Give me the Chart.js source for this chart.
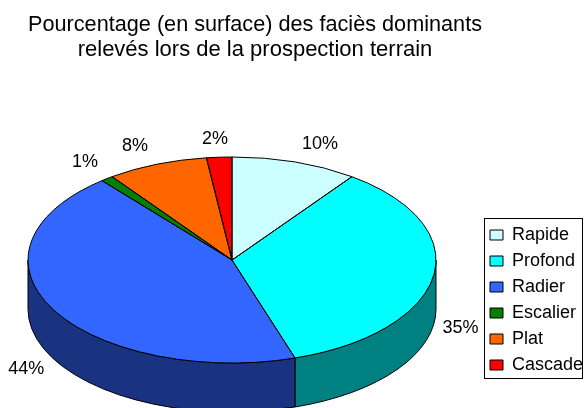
<!DOCTYPE html>
<html>
<head>
<meta charset="utf-8">
<script src="https://cdn.jsdelivr.net/npm/chart.js@4/dist/chart.umd.min.js"></script>
<style>
  html, body { margin: 0; padding: 0; background: #fff; }
</style>
</head>
<body>
<canvas id="pie" width="584" height="408"></canvas>
<script>
'use strict';

// données du graphique
const labels = ['Rapide', 'Profond', 'Radier', 'Escalier', 'Plat', 'Cascade'];
const values = [10, 35, 44, 1, 8, 2];
const colors = ['#ccffff', '#00ffff', '#3366ff', '#008000', '#ff6600', '#ff0000'];
const titleLines = ['Pourcentage (en surface) des faciès dominants', 'relevés lors de la prospection terrain'];

// look 3D (ellipse + épaisseur)
const PIE_RX = 204;
const TILT = 0.505;
const DEPTH = 49;
const FONT = '"Liberation Sans", Arial, sans-serif';

function darker(hex) {
    const n = parseInt(hex.slice(1), 16);
    const r = (n >> 16) & 255, g = (n >> 8) & 255, b = n & 255;
    return 'rgb(' + Math.round(r / 2) + ',' + Math.round(g / 2) + ',' + Math.round(b / 2) + ')';
}

function clamp(v) {
    return Math.max(-1, Math.min(1, v));
}

// ellipse du dessus, calée sur la zone du graphique
function ellipseOf(chart) {
    const a = chart.chartArea;
    const rx = PIE_RX, ry = PIE_RX * TILT;
    return { x: a.left + rx, y: a.top + ry, rx: rx, ry: ry };
}

const pie3d = {
    id: 'pie3d',
    beforeDatasetDraw(chart, args) {
        const ctx = chart.ctx;
        const e = ellipseOf(chart);
        const arcs = args.meta.data;

        // la tranche : seule la moitié avant (0..PI) est visible
        ctx.save();
        ctx.lineWidth = 1;
        ctx.strokeStyle = '#000';
        arcs.forEach(function (arc, i) {
            const a1 = Math.max(arc.startAngle, 0);
            const a2 = Math.min(arc.endAngle, Math.PI);
            if (a2 <= a1) return;
            ctx.beginPath();
            ctx.ellipse(e.x, e.y, e.rx, e.ry, 0, a1, a2);
            ctx.ellipse(e.x, e.y + DEPTH, e.rx, e.ry, 0, a2, a1, true);
            ctx.closePath();
            ctx.fillStyle = darker(colors[i]);
            ctx.fill();
            ctx.stroke();
        });
        ctx.restore();

        // le cercle de Chart.js est écrasé en ellipse
        const c = arcs[0];
        ctx.save();
        ctx.translate(e.x, e.y);
        ctx.scale(e.rx / c.outerRadius, e.ry / c.outerRadius);
        ctx.translate(-c.x, -c.y);
    },
    afterDatasetDraw(chart, args) {
        const ctx = chart.ctx;
        ctx.restore();
        const e = ellipseOf(chart);
        const arcs = args.meta.data;

        // contours du dessus
        ctx.save();
        ctx.lineWidth = 1;
        ctx.strokeStyle = '#000';
        arcs.forEach(function (arc) {
            ctx.beginPath();
            ctx.moveTo(e.x, e.y);
            ctx.ellipse(e.x, e.y, e.rx, e.ry, 0, arc.startAngle, arc.endAngle);
            ctx.closePath();
            ctx.stroke();
        });

        // étiquettes en %
        const total = values.reduce(function (s, v) { return s + v; }, 0);
        ctx.font = '18px ' + FONT;
        ctx.fillStyle = '#000';
        ctx.textAlign = 'center';
        ctx.textBaseline = 'middle';
        arcs.forEach(function (arc, i) {
            const mid = (arc.startAngle + arc.endAngle) / 2;
            const cos = Math.cos(mid), sin = Math.sin(mid);
            const px = e.x + e.rx * cos;
            let py = e.y + e.ry * sin;
            if (sin > 0) py += DEPTH;
            const txt = Math.round(values[i] / total * 100) + '%';
            const w = ctx.measureText(txt).width;
            ctx.fillText(txt, px + (w / 2 + 9) * clamp(3 * cos), py + 18 * clamp(1.2 * sin));
        });
        ctx.restore();
    }
};

// cadre autour de la légende
const legendFrame = {
    id: 'legendFrame',
    afterDraw(chart) {
        const boxes = chart.legend.legendHitBoxes;
        const first = boxes[0], last = boxes[boxes.length - 1];
        const ctx = chart.ctx;
        const x0 = Math.round(first.left - 6) + 0.5;
        const y0 = Math.round(first.top - 8) + 0.5;
        const x1 = Math.round(chart.legend.right - 2) + 0.5;
        const y1 = Math.round(last.top + last.height + 4) + 0.5;
        ctx.save();
        ctx.strokeStyle = '#000';
        ctx.lineWidth = 1;
        ctx.strokeRect(x0, y0, x1 - x0, y1 - y0);
        ctx.restore();
    }
};

const pieChart = new Chart(document.getElementById('pie'), {
    type: 'pie',
    data: {
        labels: labels,
        datasets: [{
            data: values,
            backgroundColor: colors,
            borderWidth: 0,
            clip: false
        }]
    },
    options: {
        responsive: false,
        animation: false,
        events: [],
        layout: { padding: { left: 28, top: 0, right: 0, bottom: 26 } },
        plugins: {
            title: {
                display: true,
                text: titleLines,
                fullSize: false,
                color: '#000',
                font: { family: FONT, size: 22, weight: 'normal', lineHeight: 25 / 22 },
                padding: { top: 12, bottom: 95 }
            },
            legend: {
                position: 'right',
                align: 'end',
                fullSize: true,
                maxWidth: 102,
                labels: {
                    color: '#000',
                    font: { family: FONT, size: 18 },
                    boxWidth: 13,
                    boxHeight: 10,
                    padding: 8,
                    generateLabels: function () {
                        return labels.map(function (t, i) {
                            return { text: t, fillStyle: colors[i], strokeStyle: '#000', lineWidth: 1, hidden: false, index: i, fontColor: '#000' };
                        });
                    }
                }
            },
            tooltip: { enabled: false }
        }
    },
    plugins: [pie3d, legendFrame]
});
</script>
</body>
</html>
